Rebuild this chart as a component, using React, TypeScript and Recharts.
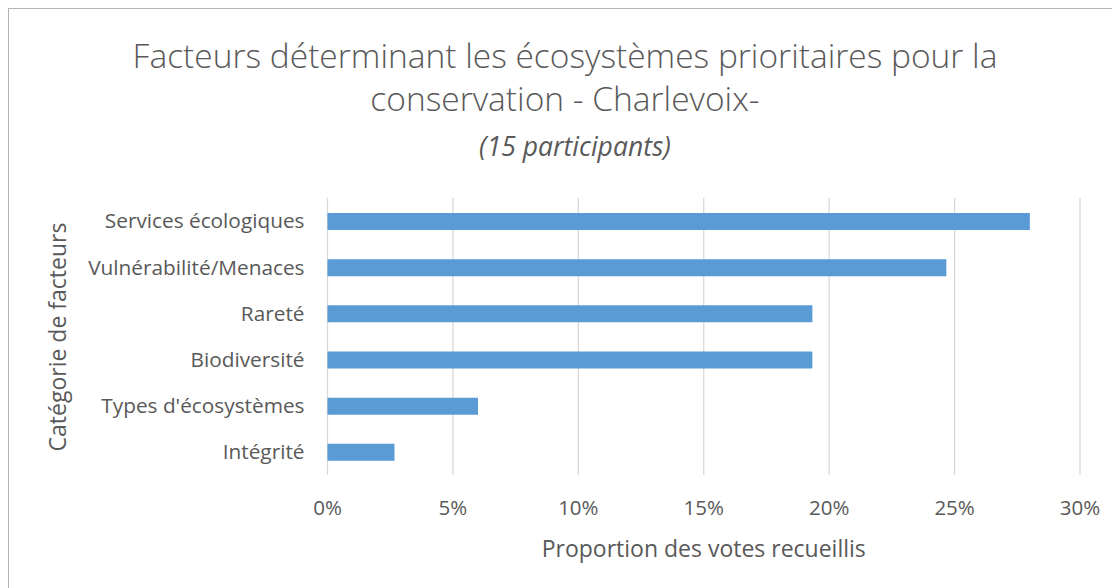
import React from "react";
import { BarChart, Bar, XAxis, YAxis, CartesianGrid } from "recharts";

const categories = [
  "Services écologiques",
  "Vulnérabilité/Menaces",
  "Rareté",
  "Biodiversité",
  "Types d'écosystèmes",
  "Intégrité",
];
const shares = [28.0, 24.67, 19.33, 19.33, 6.0, 2.67];
const xTicks = [0, 5, 10, 15, 20, 25, 30];

const titleLine1 = "Facteurs déterminant les écosystèmes prioritaires pour la";
const titleLine2 = "conservation - Charlevoix-";
const subtitle = "(15 participants)";
const xLabel = "Proportion des votes recueillis";
const yLabel = "Catégorie de facteurs";

const data = categories.map((c, i) => ({ name: c, value: shares[i] }));

const FONT = "'Open Sans', sans-serif";
const GREY = "#595959";

export default function App() {
  return (
    <div
      style={{
        position: "relative",
        width: 1112,
        height: 580,
        overflow: "hidden",
        fontFamily: FONT,
        background: "#fff",
      }}
    >
      <div
        style={{
          position: "absolute",
          left: 0,
          top: 0,
          width: 1130,
          height: 600,
          border: "1px solid #b4b4b4",
          boxSizing: "border-box",
        }}
      />
      <BarChart
        width={1112}
        height={580}
        data={data}
        layout="vertical"
        margin={{ top: 190, right: 40, left: 0, bottom: 0 }}
        barCategoryGap={0}
        style={{ position: "absolute", left: 0, top: 0 }}
      >
        <CartesianGrid horizontal={false} stroke="#d9d9d9" strokeWidth={1.3} />
        <XAxis
          type="number"
          domain={[0, 30]}
          ticks={xTicks}
          tickFormatter={(v) => `${v}%`}
          axisLine={false}
          tickLine={false}
          tickSize={0}
          tickMargin={25}
          height={113}
          tick={{ fill: GREY, fontSize: 20.5, fontFamily: FONT }}
        />
        <YAxis
          type="category"
          dataKey="name"
          width={319.5}
          axisLine={false}
          tickLine={false}
          tickSize={0}
          tickMargin={23}
          tick={{ fill: GREY, fontSize: 20.8, fontFamily: FONT }}
        />
        <Bar dataKey="value" fill="#5b9bd5" barSize={17} isAnimationActive={false} />
      </BarChart>
      <div
        style={{
          position: "absolute",
          left: 0,
          width: 1114,
          top: 26,
          textAlign: "center",
          color: GREY,
          fontSize: 33.5,
          fontWeight: 300,
          lineHeight: "43px",
        }}
      >
        <div>{titleLine1}</div>
        <div>{titleLine2}</div>
      </div>
      <div
        style={{
          position: "absolute",
          left: 0,
          width: 1134,
          top: 122,
          textAlign: "center",
          color: GREY,
          fontSize: 26.5,
          fontStyle: "italic",
          fontWeight: 400,
          lineHeight: "32px",
        }}
      >
        {subtitle}
      </div>
      <div
        style={{
          position: "absolute",
          left: 319.5,
          width: 752.5,
          top: 525,
          textAlign: "center",
          color: GREY,
          fontSize: 23,
          lineHeight: "30px",
        }}
      >
        {xLabel}
      </div>
      <div
        style={{
          position: "absolute",
          left: 49 - 150,
          top: 329 - 15,
          width: 300,
          height: 30,
          lineHeight: "30px",
          textAlign: "center",
          color: GREY,
          fontSize: 23,
          transform: "rotate(-90deg)",
        }}
      >
        {yLabel}
      </div>
    </div>
  );
}
